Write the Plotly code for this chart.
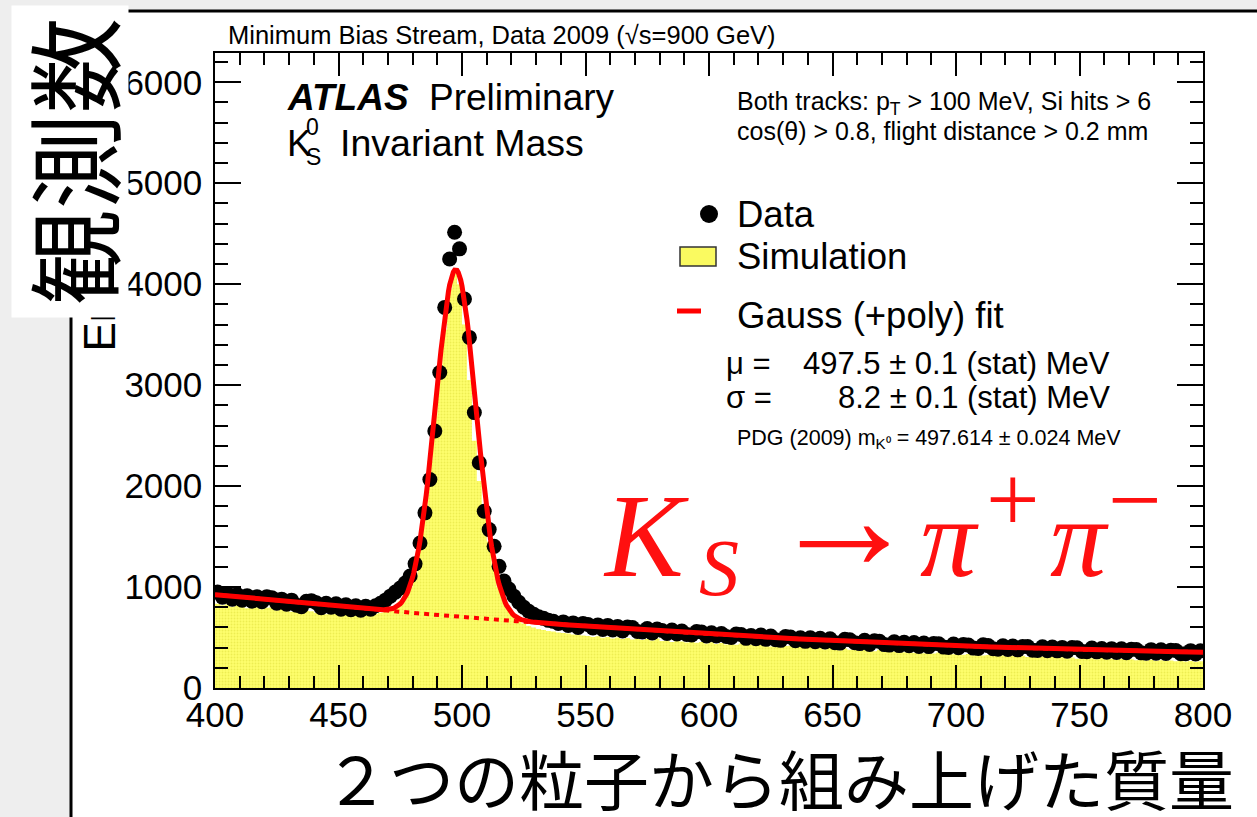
import numpy as np
import plotly.graph_objects as go

# ---- histogram binning: 2 MeV bins between 400 and 800 MeV ----
bin_edges = list(range(400, 802, 2))
bin_centres = [e + 1 for e in bin_edges[:-1]]

# observed entries per bin (400-800 MeV, 10 bins per row)
data_counts = [
    950, 900, 935, 880, 925, 870, 915, 860, 905, 855,
    905, 895, 840, 880, 830, 870, 820, 805, 860, 865,
    845, 795, 840, 800, 835, 780, 825, 775, 815, 770,
    810, 780, 815, 840, 870, 910, 950, 990, 1040, 1110,
    1230, 1437, 1735, 2066, 2545, 3125, 3770, 4250, 4515, 4350,
    3853, 3473, 2728, 2231, 1751, 1569, 1403, 1205, 1060, 980,
    910, 850, 800, 760, 730, 705, 690, 670, 660, 640,
    655, 620, 645, 600, 640, 630, 595, 625, 580, 620,
    575, 610, 565, 605, 600, 560, 555, 590, 545, 585,
    570, 540, 575, 535, 565, 530, 525, 560, 555, 515,
    548, 515, 540, 510, 500, 535, 530, 492, 520, 488,
    525, 482, 515, 478, 472, 510, 505, 468, 498, 462,
    498, 458, 492, 455, 488, 448, 445, 482, 478, 448,
    440, 472, 432, 468, 462, 430, 425, 458, 420, 452,
    418, 450, 412, 445, 410, 442, 438, 405, 402, 435,
    398, 432, 425, 395, 392, 428, 420, 390, 385, 418,
    382, 415, 378, 412, 410, 375, 372, 408, 370, 405,
    368, 402, 365, 400, 398, 362, 360, 395, 358, 392,
    355, 390, 352, 388, 350, 385, 382, 348, 345, 380,
    345, 378, 342, 375, 372, 340, 340, 370, 338, 368,
]

# simulated entries per bin (same binning)
sim_counts = [
    835, 820, 830, 805, 820, 810, 790, 815, 800, 780,
    795, 800, 770, 785, 775, 755, 770, 750, 765, 760,
    745, 750, 730, 745, 735, 725, 735, 720, 725, 730,
    720, 725, 735, 745, 760, 775, 810, 860, 930, 1000,
    1100, 1400, 1800, 2250, 2700, 3150, 3550, 3950, 4120, 4000,
    3600, 3050, 2450, 2050, 1700, 1450, 1200, 1000, 880, 790,
    720, 670, 640, 615, 600, 585, 575, 565, 560, 550,
    545, 540, 530, 525, 520, 515, 505, 512, 498, 505,
    490, 500, 485, 495, 480, 490, 475, 485, 470, 490,
    465, 470, 455, 468, 460, 450, 462, 448, 455, 440,
    452, 435, 445, 430, 440, 428, 440, 425, 432, 415,
    428, 420, 410, 425, 405, 415, 418, 400, 410, 398,
    405, 392, 402, 385, 398, 388, 375, 392, 378, 380,
    370, 382, 372, 365, 378, 360, 370, 362, 372, 355,
    365, 350, 360, 345, 358, 342, 352, 340, 348, 335,
    350, 330, 338, 325, 340, 322, 328, 335, 318, 325,
    315, 322, 310, 320, 308, 315, 305, 312, 300, 310,
    298, 305, 295, 302, 290, 300, 288, 295, 285, 298,
    284, 290, 280, 288, 278, 285, 275, 282, 272, 280,
    270, 276, 268, 272, 265, 270, 262, 268, 260, 264,
]

# Gauss (+ quadratic polynomial) fit result
fit_mu = 497.5
fit_sigma = 8.2
fit_amp = 3435.0
bg_pivot = 600.0
bg_coef = [535.0, -1.425, 0.002625]

x_ticks = [400, 450, 500, 550, 600, 650, 700, 750, 800]
y_ticks = [0, 1000, 2000, 3000, 4000, 5000, 6000]

# ---- page geometry (pixels) ----
W, H = 1257, 817
L, R, T, B = 215, 1203, 53, 688

SANS = "Liberation Sans, Arial, Helvetica, sans-serif"
SERIF = "Liberation Serif, Times New Roman, serif"
CJK = "Noto Sans CJK JP, Noto Sans CJK SC, sans-serif"


def px(x):
    return (x - L) / (R - L)


def py(y):
    return (B - y) / (B - T)


def background(m):
    t = np.asarray(m, dtype=float) - bg_pivot
    return bg_coef[0] + bg_coef[1] * t + bg_coef[2] * t * t


def fit_curve(m):
    m = np.asarray(m, dtype=float)
    return background(m) + fit_amp * np.exp(-0.5 * ((m - fit_mu) / fit_sigma) ** 2)


fig = go.Figure()

# simulation histogram (filled steps)
sim_step = sim_counts + [sim_counts[-1]]
fig.add_trace(go.Scatter(
    x=bin_edges, y=sim_step, mode="lines", line=dict(shape="hv", width=0, color="#f8f850"),
    fill="tozeroy", fillcolor="#fdfd68",
    fillpattern=dict(shape=".", bgcolor="#fefe6c", fgcolor="#dcdc38", size=3, solidity=0.3),
    showlegend=False, hoverinfo="skip"))

# data points with statistical errors
fig.add_trace(go.Scatter(
    x=bin_centres, y=data_counts, mode="markers",
    marker=dict(size=15, color="black", line=dict(width=0)),
    error_y=dict(type="data", array=[float(np.sqrt(v)) for v in data_counts],
                 color="black", thickness=2, width=0),
    showlegend=False))

# fit curves
m_fine = np.linspace(400, 800, 801)
fig.add_trace(go.Scatter(
    x=m_fine, y=background(m_fine), mode="lines",
    line=dict(color="#ff0000", width=4, dash="5px,5px"), showlegend=False, hoverinfo="skip"))
fig.add_trace(go.Scatter(
    x=m_fine, y=fit_curve(m_fine), mode="lines",
    line=dict(color="#ff0000", width=5), showlegend=False, hoverinfo="skip"))

ann = []


def text(x, y, s, size, xanchor="left", yanchor="middle", color="black", family=SANS, angle=0, **kw):
    d = dict(x=px(x), y=py(y), xref="paper", yref="paper", text=s, showarrow=False,
             xanchor=xanchor, yanchor=yanchor, textangle=angle,
             font=dict(size=size, color=color, family=family))
    d.update(kw)
    ann.append(d)


# header and labels inside the frame
text(226, 35, "Minimum Bias Stream, Data 2009 (√s=900 GeV)", 25.5)
text(285, 97, "<b><i>ATLAS</i></b>", 37)
text(427, 97, "Preliminary", 37)
text(285, 143, "K", 37)
text(304, 127, "0", 23)
text(304, 157, "S", 23)
text(338, 143, "Invariant Mass", 37.5)
text(735, 103, "Both tracks: p<sub>T</sub> > 100 MeV, Si hits > 6", 25)
text(735, 131, "cos(θ) > 0.8, flight distance > 0.2 mm", 25)

# legend
text(735, 215, "Data", 36.5)
text(735, 256, "Simulation", 36.5)
text(735, 315, "Gauss (+poly) fit", 36.5)
text(724, 364, "μ =", 31)
text(1112, 364, "497.5 ± 0.1 (stat) MeV", 31, xanchor="right")
text(724, 397, "σ =", 31)
text(1112, 397, "8.2 ± 0.1 (stat) MeV", 31, xanchor="right")
text(735, 439, "PDG (2009) m<sub>K⁰</sub> = 497.614 ± 0.024 MeV", 21.5, height=26)

# decay formula
RED = "#ff1010"
text(601, 536, "<i>K</i>", 118, color=RED, family=SERIF)
text(697, 568, "<i>S</i>", 80, color=RED, family=SERIF)
text(767, 518, "→", 150, color=RED, family=SERIF)
text(918, 538, "<i>π</i>", 112, color=RED, family=SERIF)
text(984, 499, "+", 95, color=RED, family=SERIF)
text(1048, 538, "<i>π</i>", 112, color=RED, family=SERIF)
text(1106, 500, "−", 95, color=RED, family=SERIF)

# axis titles
text(322, 817, "２つの粒子から組み上げた質量", 65, yanchor="bottom", family=CJK, height=76)
text(99, 354, "Entries / 2 MeV", 44, xanchor="center", yanchor="bottom", angle=-90)
text(70, 162, "観測数", 96, xanchor="center", family=CJK, angle=-90,
     bgcolor="white", width=311, height=116, borderpad=0)

shapes = [
    # slide panel
    dict(type="rect", xref="paper", yref="paper", x0=px(71), x1=px(1400), y0=py(11), y1=py(900),
         fillcolor="white", line=dict(color="black", width=3), layer="below"),
    # legend markers
    dict(type="circle", xref="paper", yref="paper", x0=px(700), x1=px(718), y0=py(205), y1=py(223),
         fillcolor="black", line=dict(color="black", width=0)),
    dict(type="rect", xref="paper", yref="paper", x0=px(680), x1=px(716), y0=py(247), y1=py(266),
         fillcolor="#fafa60", line=dict(color="#333333", width=1.5)),
    dict(type="line", xref="paper", yref="paper", x0=px(677), x1=px(701), y0=py(311), y1=py(311),
         line=dict(color="#ff0000", width=5)),
]

axis_common = dict(
    showline=True, linecolor="black", linewidth=1.5, mirror="ticks",
    ticks="inside", tickcolor="black", tickwidth=1.5, showgrid=False, zeroline=False,
    tickfont=dict(family=SANS, size=35, color="black"),
)

fig.update_layout(
    width=W, height=H, autosize=False,
    margin=dict(l=L, r=W - R, t=T, b=H - B, pad=0),
    paper_bgcolor="#eeeeee", plot_bgcolor="white",
    annotations=ann, shapes=shapes, showlegend=False,
    xaxis=dict(range=[400, 800], tickvals=x_ticks, ticklen=23, ticklabelstandoff=-5,
               minor=dict(dtick=10, ticklen=12, ticks="inside", tickcolor="black", tickwidth=1.5, showgrid=False),
               **axis_common),
    yaxis=dict(range=[0, 6290], tickvals=y_ticks, ticklen=26, ticklabelstandoff=4,
               minor=dict(dtick=200, ticklen=13, ticks="inside", tickcolor="black", tickwidth=1.5, showgrid=False),
               **axis_common),
)

fig.write_html("out.html")
